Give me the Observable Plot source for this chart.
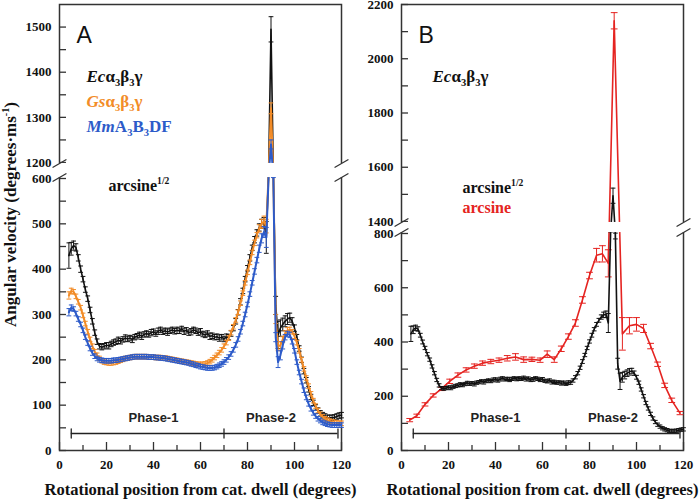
<!DOCTYPE html>
<html><head><meta charset="utf-8">
<script src="https://cdn.jsdelivr.net/npm/d3@7"></script>
<script src="https://cdn.jsdelivr.net/npm/@observablehq/plot@0.6"></script>
<style>
body{margin:0;background:#fff;}
#wrap{display:flex;width:700px;height:501px;overflow:hidden;background:#fff;}
#wrap svg{background:transparent !important;}
</style></head><body><div id="wrap"></div>
<script>
// ---------- data ----------
const angles = [4,5,6,7,8,9,10,11,12,13,14,15,16,17,18,19,20,21,22,23,24,25,26,27,28,29,30,31,32,33,34,35,36,37,38,39,40,41,42,43,44,45,46,47,48,49,50,51,52,53,54,55,56,57,58,59,60,61,62,63,64,65,66,67,68,69,70,71,72,73,74,75,76,77,78,79,80,81,82,83,84,85,86,87,88,89,90,91,92,93,94,95,96,97,98,99,100,101,102,103,104,105,106,107,108,109,110,111,112,113,114,115,116,117,118,119,120];

const ecSqrt = [430,445,452,448,425,400,378,355,335,310,
  285,260,240,230,228,230,232,231,235,238,
  240,243,241,245,248,246,248,245,250,252,
  255,252,256,258,256,260,262,258,263,266,
  262,264,261,264,266,263,265,264,268,263,
  265,260,262,266,264,260,262,257,255,258,
  252,253,250,251,248,250,246,250,250,258,
  270,285,305,328,352,378,402,425,447,465,
  480,492,500,502,470,900,1495,800,320,255,
  270,278,285,290,293,285,270,250,225,200,
  175,155,135,118,105,95,88,82,78,75,
  72,72,72,73,75,77,78];
const ecSqrtErr = [28,14,10,8,7,7,6,6,6,6,
  6,6,6,6,6,6,6,7,6,6,
  6,7,6,6,7,6,6,7,6,6,
  6,7,6,6,6,7,6,6,7,6,
  6,6,7,6,6,6,7,6,6,7,
  6,6,7,6,6,6,7,6,6,6,
  7,6,6,6,7,6,6,7,6,6,
  6,6,6,7,6,6,6,7,6,7,
  7,8,10,12,35,20,28,20,20,30,
  18,14,12,12,10,8,7,6,6,6,
  6,6,6,6,6,6,6,6,6,6,
  6,6,6,6,6,6,6];

const gsSqrt = [342,352,350,340,328,315,298,280,262,245,
  230,218,210,203,198,195,194,193,193,194,
  195,197,199,201,203,204,205,206,207,207,
  207,207,207,207,206,206,206,205,205,205,
  204,204,203,202,201,200,199,198,197,196,
  195,194,193,192,191,190,190,190,191,193,
  196,200,205,210,216,222,230,238,248,260,
  273,288,305,325,347,370,393,415,437,458,
  475,490,500,505,495,800,1320,700,290,230,
  232,245,258,265,266,262,252,238,220,200,
  180,160,142,125,110,98,88,80,74,70,
  67,65,63,62,61,60,60];
const gsSqrtErr = [8,6,5,5,5,5,5,5,5,5,
  5,5,5,5,5,5,5,5,5,5,
  5,5,5,5,5,5,5,5,5,5,
  5,5,5,5,5,5,5,5,5,5,
  5,5,5,5,5,5,5,5,5,5,
  5,5,5,5,5,5,5,5,5,5,
  5,5,5,5,5,5,5,5,5,5,
  5,5,5,5,5,5,5,5,5,6,
  6,8,10,12,15,15,12,15,10,10,
  8,6,6,6,6,5,5,5,5,5,
  5,5,5,5,5,5,5,5,5,5,
  5,5,5,5,5,5,5];

const mmSqrt = [305,315,312,302,290,278,265,250,237,225,
  215,208,203,200,199,198,198,198,198,199,
  199,200,201,202,203,204,205,206,207,207,
  207,207,207,207,206,206,206,205,205,204,
  204,203,202,201,200,199,198,197,196,195,
  194,193,191,190,188,187,185,184,183,182,
  182,182,183,185,188,191,195,200,206,213,
  222,233,246,262,280,300,322,345,370,395,
  420,445,468,482,470,700,1240,650,250,195,
  210,232,250,257,255,240,220,195,172,152,
  133,117,103,92,83,76,70,66,62,60,
  58,57,56,56,56,56,56];
const mmSqrtErr = [8,6,5,5,5,5,5,5,5,5,
  5,5,5,5,5,5,5,5,5,5,
  5,5,5,5,5,5,5,5,5,5,
  5,5,5,5,5,5,5,5,5,5,
  5,5,5,5,5,5,5,5,5,5,
  5,5,5,5,5,5,5,5,5,5,
  5,5,5,5,5,5,5,5,5,5,
  5,5,5,5,5,5,5,5,5,6,
  6,8,10,12,22,15,10,15,10,12,
  10,8,6,6,6,5,5,5,5,5,
  5,5,5,5,5,5,5,5,5,5,
  5,5,5,5,5,5,5];

const arcAngles = [3.5,6.5,10,13.5,17,20.5,24,27.5,31,34.5,38,41.5,45,48.5,52,55.5,59,62,65,68,71,74,77,80,83,85.5,88,90.5,94,97,100,103,106,109,112,115,118.5];
const ecArc = [112,128,170,203,227,255,278,297,311,322,328,333,340,345,335,336,333,355,335,375,420,470,555,645,720,725,690,2140,430,460,465,450,385,318,240,185,138];
const ecArcErr = [6,6,6,6,6,8,8,8,8,8,8,8,10,12,10,8,8,12,10,10,10,12,12,12,25,30,50,30,60,30,25,15,10,8,8,8,6];

const xTicksMajor = [0,20,40,60,80,100,120];
const xTicksMinor = [10,30,50,70,90,110];
const yTicksA = [0,100,200,300,400,500,600,1200,1300,1400,1500];
const yMinorA = [50,150,250,350,450,550,1250,1350,1450];
const yTicksB = [0,200,400,600,800,1400,1600,1800,2000,2200];
const yMinorB = [100,300,500,700,1500,1700,1900,2100];

const phaseBounds = [5, 70, 118.5];
const phaseNames = ["Phase-1", "Phase-2"];
const phaseCenters = [40, 90];

const legendA = ["*Ec*α_3β_3γ", "*Gs*α_3β_3γ", "*Mm*A_3B_3DF"];
const legendB = ["*Ec*α_3β_3γ"];
const methodLabels = ["arcsine^{1/2}", "arcsine"];
const xTitle = "Rotational position from cat. dwell (degrees)";
const yTitle = "Angular velocity (degrees·ms^{-1})";

// ---------- styles ----------
const serif = "'Liberation Serif','Times New Roman',serif";
const sans = "'Liberation Sans',Arial,sans-serif";
const C = {ec: "#111111", gs: "#f28c28", mm: "#2d5bc9", arc: "#e52421", axis: "#333333"};
const lineShape = {draw(ctx, l) { ctx.moveTo(0, 0); ctx.lineTo(0, -l); }};

const rows = (xs, vs, es) => xs.map((a, i) => ({a, v: vs[i], e: es[i]}));

function seriesMarks(data, color, sw, cap) {
  return [
    Plot.ruleX(data, {x: "a", y1: d => d.v - d.e, y2: d => d.v + d.e, stroke: color, strokeWidth: 1}),
    Plot.vector(data, {x: "a", y: d => d.v + d.e, length: cap, rotate: 90, anchor: "middle", shape: lineShape, stroke: color, strokeWidth: 1}),
    Plot.vector(data, {x: "a", y: d => d.v - d.e, length: cap, rotate: 90, anchor: "middle", shape: lineShape, stroke: color, strokeWidth: 1}),
    Plot.line(data, {x: "a", y: "v", stroke: color, strokeWidth: sw})
  ];
}

function labelText(t, opts) {
  return Plot.text([t], {text: d => d, fontFamily: serif, fontWeight: "bold", lineAnchor: "bottom", textAnchor: "start", frameAnchor: "top-left", ...opts});
}

function panel(cfg) {
  const brk = cfg.breakAt;
  const band = [brk[0] + (brk[1] - brk[0]) * cfg.bandFrac[0], brk[0] + (brk[1] - brk[0]) * cfg.bandFrac[1]];
  const tickStyle = {label: null, stroke: C.axis, strokeWidth: 1.3, tickFormat: () => ""};
  const textStyle = {label: null, tickSize: 0, tickFormat: d => String(d), fontSize: 13, fontWeight: "bold", fontFamily: serif, fill: "#111"};
  const marks = [
    Plot.frame({stroke: C.axis, strokeWidth: 1.5}),
    Plot.axisX({ticks: xTicksMinor, tickSize: -5, ...tickStyle}),
    Plot.axisX({ticks: xTicksMajor, tickSize: -8, ...tickStyle}),
    Plot.axisX({ticks: xTicksMajor, tickPadding: 9, ...textStyle}),
    Plot.axisY({ticks: cfg.yMinor, tickSize: -7, ...tickStyle}),
    Plot.axisY({ticks: cfg.yTicks, tickSize: -7, ...tickStyle}),
    Plot.axisY({ticks: cfg.yTicks, tickPadding: 8, ...textStyle}),
    ...cfg.series.flatMap(s => seriesMarks(s.data, s.color, s.sw, s.cap)),
    // axis break
    Plot.rect([brk], {x1: 0, x2: 120, y1: band[0], y2: band[1], fill: "white", insetLeft: -5, insetRight: -5}),
    Plot.vector(band, {y: d => d, frameAnchor: "left", length: 15, rotate: 60, anchor: "middle", shape: lineShape, stroke: C.axis, strokeWidth: 1.3}),
    Plot.vector(band, {y: d => d, frameAnchor: "right", length: 15, rotate: 60, anchor: "middle", shape: lineShape, stroke: C.axis, strokeWidth: 1.3}),
    // phase bar
    Plot.ruleY([0], {x1: phaseBounds[0], x2: phaseBounds[2], dy: -17, stroke: "#222", strokeWidth: 1.3}),
    Plot.vector(phaseBounds, {x: d => d, y: 0, dy: -17, length: 9, anchor: "middle", shape: lineShape, stroke: "#222", strokeWidth: 1.3}),
    Plot.text(phaseNames, {x: (d, i) => phaseCenters[i], y: 0, dy: -29, text: d => d, lineAnchor: "bottom", fontFamily: sans, fontWeight: "bold", fontSize: 13, fill: "#222"}),
    // panel letter
    Plot.text([cfg.letter], {frameAnchor: "top-left", dx: 17, dy: 38, text: d => d, lineAnchor: "bottom", textAnchor: "start", fontFamily: sans, fontSize: 23, fill: "#111"}),
    // x title
    Plot.text([xTitle], {frameAnchor: "bottom", dy: 44, text: d => d, lineAnchor: "bottom", textAnchor: "middle", fontFamily: serif, fontWeight: "bold", fontSize: 16.5, fill: "#111"}),
    ...cfg.texts
  ];
  if (cfg.yTitle) marks.push(Plot.text([yTitle], {frameAnchor: "left", dx: -49, dy: -13, rotate: -90, text: d => d, textAnchor: "middle", lineAnchor: "middle", fontFamily: serif, fontWeight: "bold", fontSize: 17, fill: "#111"}));
  return Plot.plot({
    width: 350, height: 501,
    marginLeft: cfg.ml, marginRight: cfg.mr, marginTop: 4, marginBottom: 51,
    x: {domain: [0, 120], label: null},
    y: {type: "linear", domain: cfg.yDomain, range: cfg.yRange, label: null},
    style: {fontFamily: serif, background: "transparent", overflow: "visible"},
    marks
  });
}

const ecRows = rows(angles, ecSqrt, ecSqrtErr);
const gsRows = rows(angles, gsSqrt, gsSqrtErr);
const mmRows = rows(angles, mmSqrt, mmSqrtErr);
const arcRows = rows(arcAngles, ecArc, ecArcErr);

const legendColorsA = [C.ec, C.gs, C.mm];

const chartA = panel({
  letter: "A", ml: 59, mr: 9, yTitle: true,
  yDomain: [0, 600, 1200, 1550], yRange: [450, 178, 162, 4],
  breakAt: [600, 1200], bandFrac: [0.06, 0.94],
  yTicks: yTicksA, yMinor: yMinorA,
  series: [
    {data: ecRows, color: C.ec, sw: 1.6, cap: 4},
    {data: gsRows, color: C.gs, sw: 2, cap: 4},
    {data: mmRows, color: C.mm, sw: 2, cap: 4}
  ],
  texts: [
    ...legendA.map((t, i) => labelText(t, {dx: 27, dy: 77 + i * 25, fontSize: 17, fill: legendColorsA[i]})),
    labelText(methodLabels[0], {dx: 49, dy: 186, fontSize: 16, fill: "#111"})
  ]
});

const chartB = panel({
  letter: "B", ml: 51, mr: 17, yTitle: false,
  yDomain: [0, 800, 1400, 2200], yRange: [450, 233, 221, 4],
  breakAt: [800, 1400], bandFrac: [0.08, 0.92],
  yTicks: yTicksB, yMinor: yMinorB,
  series: [
    {data: arcRows, color: C.arc, sw: 1.6, cap: 6},
    {data: ecRows, color: C.ec, sw: 1.6, cap: 4}
  ],
  texts: [
    labelText(legendB[0], {dx: 31, dy: 77, fontSize: 17, fill: C.ec}),
    labelText(methodLabels[0], {dx: 61, dy: 188, fontSize: 16, fill: "#111"}),
    labelText(methodLabels[1], {dx: 61, dy: 208, fontSize: 16, fill: C.arc})
  ]
});

const wrap = document.getElementById("wrap");
wrap.appendChild(chartA);
wrap.appendChild(chartB);

// rich text: *italic*, _x subscript, ^{..} superscript
function richify(svg) {
  d3.select(svg).selectAll("text").each(function () {
    const s = this.textContent;
    if (!/[*_^]/.test(s)) return;
    const fs = parseFloat(getComputedStyle(this).fontSize) || 16;
    const toks = [...s.matchAll(/\*([^*]+)\*|_(\{[^}]*\}|.)|\^(\{[^}]*\}|.)|([^*_^]+)/g)];
    this.textContent = "";
    let cur = 0;
    const strip = t => t.replace(/^\{|\}$/g, "");
    for (const m of toks) {
      const t = d3.select(this).append("tspan");
      let target = 0, txt;
      if (m[1]) { txt = m[1]; t.attr("font-style", "italic"); }
      else if (m[2]) { txt = strip(m[2]); target = 0.28 * fs; t.attr("font-size", (0.62 * fs) + "px"); }
      else if (m[3]) { txt = strip(m[3]); target = -0.38 * fs; t.attr("font-size", (0.6 * fs) + "px"); }
      else { txt = m[4]; }
      if (target - cur !== 0) t.attr("dy", (target - cur) + "px");
      cur = target;
      t.text(txt);
    }
  });
}
richify(chartA);
richify(chartB);
</script></body></html>
